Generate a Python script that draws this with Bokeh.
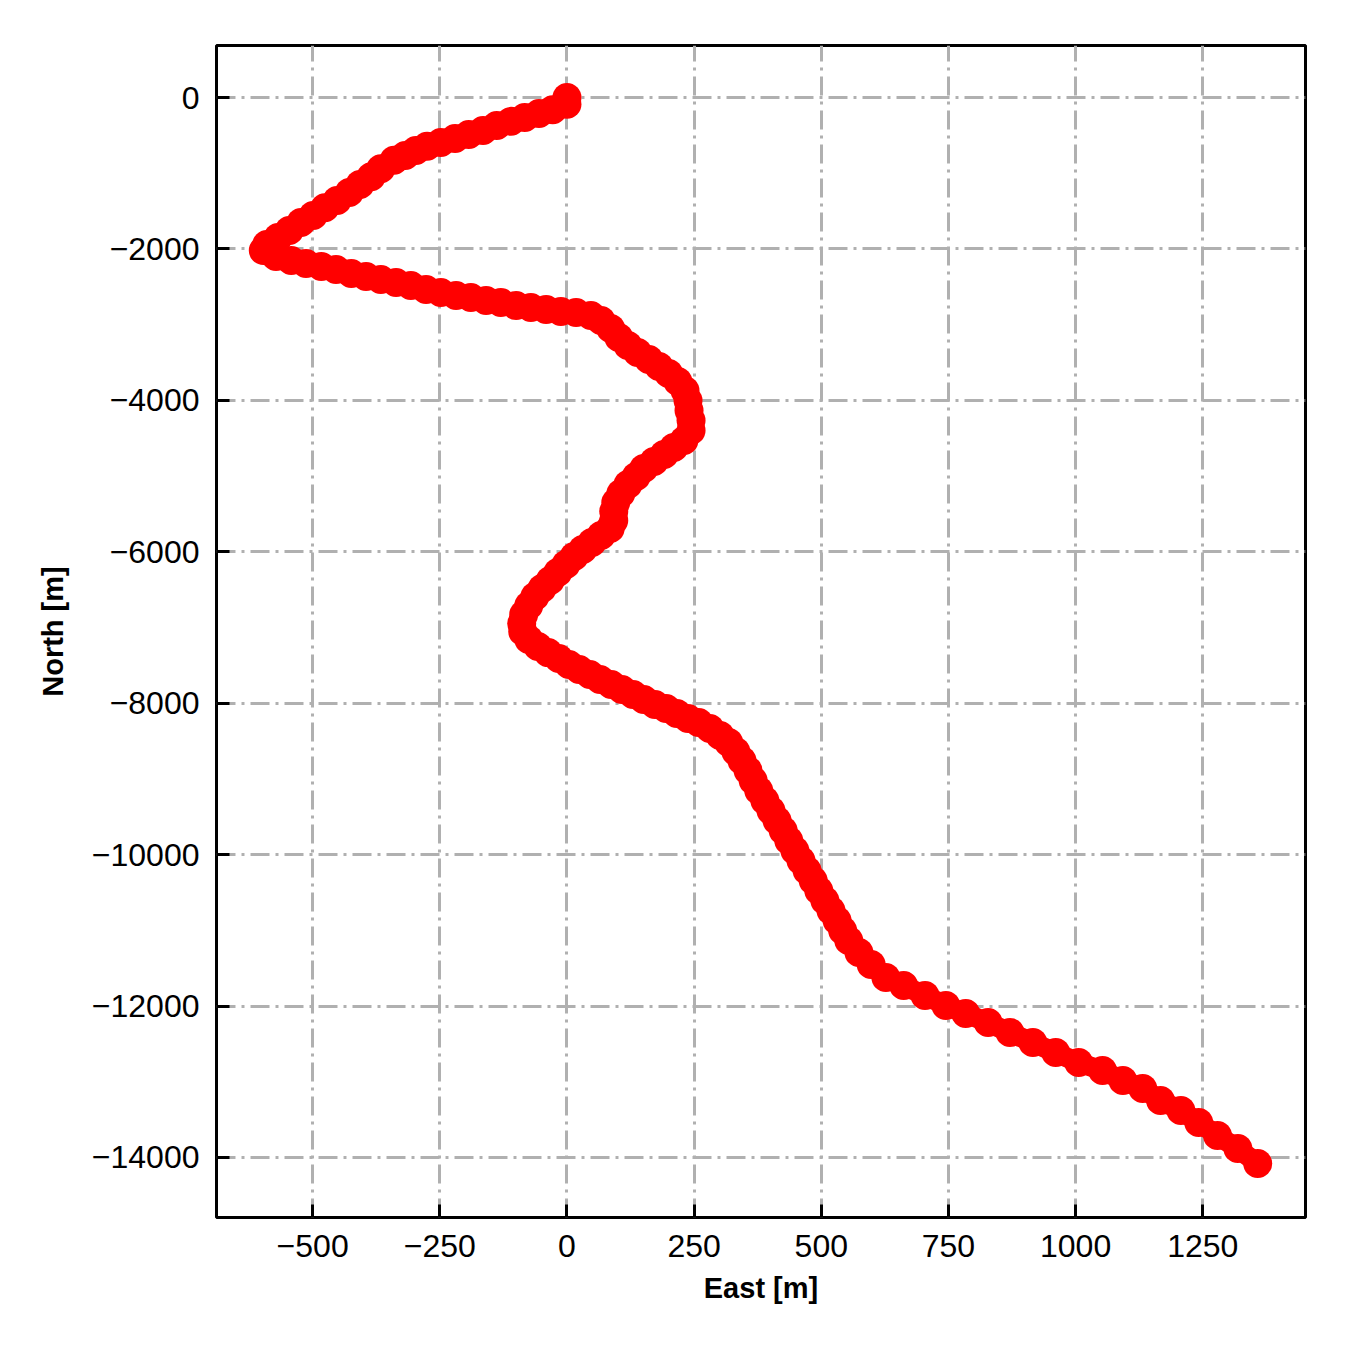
from bokeh.plotting import figure
from bokeh.models import FixedTicker, Range1d
from bokeh.embed import file_html
from bokeh.resources import INLINE

# Track positions (metres)
east = [0, 0, -28, -55, -83, -110, -138, -165, -193, -220, -248, -275, -297, -318, -340,
        -366, -385, -407, -428, -452, -476, -499, -523, -546, -568, -590, -597,
        -572, -542, -513, -483, -454, -424, -395, -366, -336, -307, -277, -248, -218,
        -189, -159, -130, -100, -71, -41, -12, 18, 47, 67, 86, 102, 120, 139, 161, 181,
        200, 218, 232, 238, 240, 244, 244,
        230, 210, 191, 171, 151, 136, 120, 106, 96, 92, 92, 85, 67, 49, 31, 14, -2,
        -18, -33, -49, -63, -75, -85, -89, -87, -75, -57, -37, -16, 4, 24, 45, 65, 87,
        108, 130, 151, 173, 195, 216, 238, 259, 281, 301, 318, 332, 344, 356, 366, 377,
        389, 401, 413, 425, 436, 448, 460, 472, 484, 495, 507, 519, 531, 542, 554,
        574, 598, 627, 662, 704, 745, 784, 828, 871, 916, 961, 1006, 1053, 1093, 1132,
        1167, 1207, 1242, 1279, 1319, 1358]
north = [0, -90, -160, -210, -265, -315, -370, -435, -490, -540, -595, -645, -700, -765, -830,
         -940, -1045, -1150, -1255, -1360, -1455, -1560, -1650, -1755, -1850, -1940, -2020,
         -2100, -2153, -2193, -2232, -2272, -2325, -2365, -2404, -2444, -2483, -2536, -2576, -2615,
         -2642, -2682, -2708, -2748, -2774, -2800, -2827, -2840, -2880, -2946, -3052, -3170, -3276, -3369, -3461, -3553,
         -3646, -3752, -3870, -4002, -4134, -4267, -4399,
         -4531, -4623, -4716, -4808, -4901, -5006, -5112, -5231, -5350, -5469, -5588, -5693, -5786, -5878, -5971, -6063, -6169,
         -6275, -6380, -6486, -6592, -6711, -6830, -6948, -7054, -7160, -7252, -7332, -7411, -7490, -7556, -7622, -7688, -7754,
         -7820, -7886, -7952, -8018, -8071, -8137, -8203, -8256, -8335, -8428, -8520, -8639, -8758, -8890, -9022, -9154,
         -9286, -9418, -9550, -9682, -9814, -9947, -10079, -10211, -10343, -10475, -10607, -10739, -10871, -11003, -11135,
         -11293, -11452, -11624, -11729, -11861, -11993, -12099, -12218, -12350, -12483, -12615, -12747, -12853, -12985, -13090,
         -13249, -13381, -13539, -13711, -13883, -14081]

x_ticks = [-500, -250, 0, 250, 500, 750, 1000, 1250]
x_tick_labels = ["\u2212500", "\u2212250", "0", "250", "500", "750", "1000", "1250"]
y_ticks = [0, -2000, -4000, -6000, -8000, -10000, -12000, -14000]
y_tick_labels = ["0", "\u22122000", "\u22124000", "\u22126000", "\u22128000", "\u221210000", "\u221212000", "\u221214000"]

FONT = "Liberation Sans"

p = figure(width=1345, height=1345, output_backend="svg", toolbar_location=None,
           x_range=Range1d(-689, 1452), y_range=Range1d(-14793, 687),
           min_border_left=216, min_border_right=40, min_border_top=45, min_border_bottom=128)

p.outline_line_color = "black"
p.outline_line_width = 3
p.background_fill_color = "white"
p.border_fill_color = "white"

for ax, ticks, labels in ((p.xaxis[0], x_ticks, x_tick_labels), (p.yaxis[0], y_ticks, y_tick_labels)):
    ax.ticker = FixedTicker(ticks=ticks)
    ax.major_label_overrides = {t: l for t, l in zip(ticks, labels)}
    ax.minor_tick_line_color = None
    ax.major_tick_in = 13
    ax.major_tick_out = 0
    ax.major_tick_line_width = 3
    ax.major_tick_line_color = "black"
    ax.axis_line_color = None
    ax.major_label_text_font = FONT
    ax.major_label_text_font_size = "32px"
    ax.major_label_text_color = "black"
    ax.major_label_standoff = 17
    ax.axis_label_text_font = FONT
    ax.axis_label_text_font_style = "bold"
    ax.axis_label_text_font_size = "29px"
    ax.axis_label_text_color = "black"

p.xaxis.axis_label = "East [m]"
p.yaxis.axis_label = "North [m]"
p.xaxis.axis_label_standoff = 12
p.yaxis.axis_label_standoff = 20
p.yaxis.major_label_orientation = "horizontal"

for g in (p.xgrid[0], p.ygrid[0]):
    g.grid_line_color = "#b0b0b0"
    g.grid_line_width = 3
    g.grid_line_dash = "19 6 3 6"

p.xgrid.ticker = FixedTicker(ticks=x_ticks)
p.ygrid.ticker = FixedTicker(ticks=y_ticks)

p.line(east, north, line_color="red", line_width=20, line_join="round", line_cap="round")
p.scatter(east, north, size=29, fill_color="red", line_color=None)

open("out.html", "w").write(file_html(p, INLINE))
